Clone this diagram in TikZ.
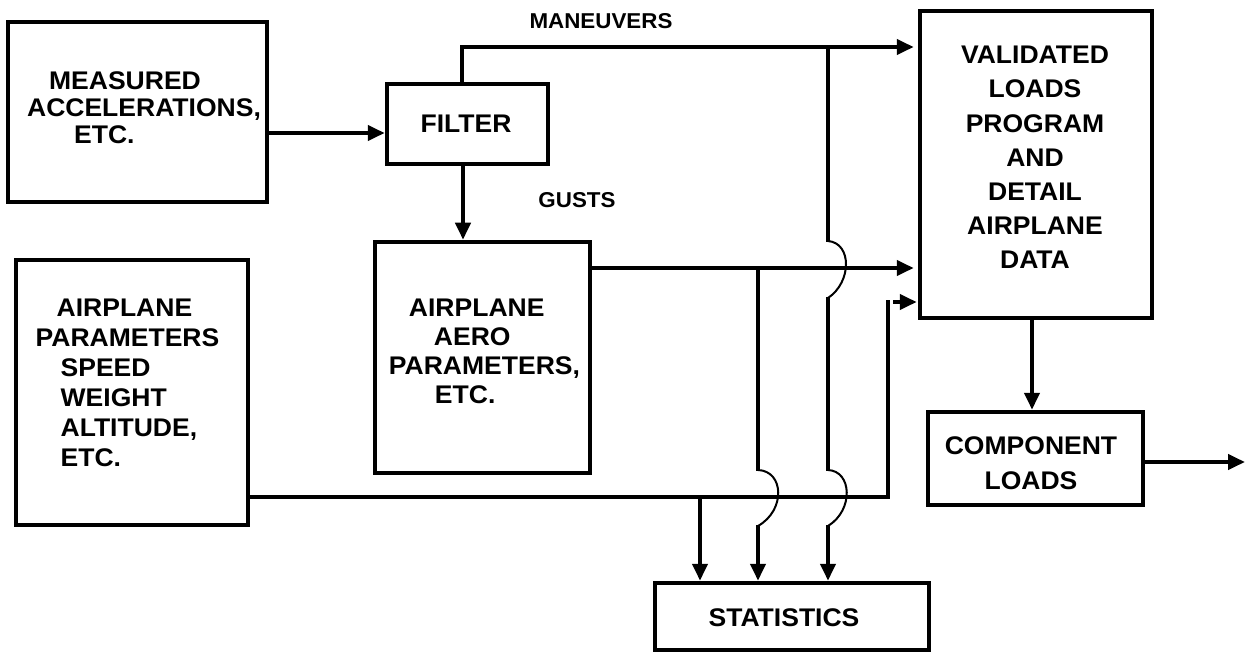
\documentclass[tikz,border=0pt]{standalone}
\usepackage{fontspec}
\setmainfont{Liberation Sans}[FakeStretch=1.04]
\usetikzlibrary{arrows.meta}
\begin{document}
\begin{tikzpicture}[x=1bp,y=-1bp,
  box/.style={draw, line width=4.5bp, inner sep=0pt},
  txt/.style={font=\bfseries\fontsize{25.5bp}{29bp}\selectfont, inner sep=0pt},
  small/.style={font=\bfseries\fontsize{21.5bp}{25bp}\selectfont, inner sep=0pt},
  conn/.style={line width=4bp},
  arr/.style={conn, -{Triangle[length=17bp,width=15bp]}},
  hop/.style={line width=2bp}]
\useasboundingbox (0,0) rectangle (1245,654);
% boxes
\node[box, minimum width=259bp, minimum height=180bp] (meas) at (137.5,112) {};
\node[box, minimum width=161bp, minimum height=80bp] (filter) at (467.5,124) {};
\node[box, minimum width=215bp, minimum height=231bp] (aero) at (482.5,357.5) {};
\node[box, minimum width=232bp, minimum height=265bp] (params) at (132,392.5) {};
\node[box, minimum width=232bp, minimum height=307bp] (valid) at (1036,164.5) {};
\node[box, minimum width=215bp, minimum height=93bp] (comp) at (1035.5,458.5) {};
\node[box, minimum width=274bp, minimum height=67bp] (stats) at (792,616.5) {};
% texts
\node[txt, align=left, font=\bfseries\fontsize{25.5bp}{27bp}\selectfont] (mtxt) at (144,108) {\hspace*{22bp}MEASURED\\ACCELERATIONS,\\\hspace*{47bp}ETC.};
\node[txt] (ftxt) at (466,124) {FILTER};
\node[txt, align=left] (atxt) at (484.5,351) {\hspace*{20bp}AIRPLANE\\\hspace*{45bp}AERO\\PARAMETERS,\\\hspace*{46bp}ETC.};
\node[txt, align=left, font=\bfseries\fontsize{25.5bp}{30bp}\selectfont] (ptxt) at (127.5,383) {\hspace*{21bp}AIRPLANE\\PARAMETERS\\\hspace*{25bp}SPEED\\\hspace*{25bp}WEIGHT\\\hspace*{25bp}ALTITUDE,\\\hspace*{25bp}ETC.};
\node[txt, align=center, font=\bfseries\fontsize{25.5bp}{34.2bp}\selectfont] (vtxt) at (1035,157.5) {VALIDATED\\LOADS\\PROGRAM\\AND\\DETAIL\\AIRPLANE\\DATA};
\node[txt, align=center, font=\bfseries\fontsize{25.5bp}{35bp}\selectfont] (ctxt) at (1031,463) {COMPONENT\\LOADS};
\node[txt] (stxt) at (784,618) {STATISTICS};
\node[small] (mlbl) at (601,21) {MANEUVERS};
\node[small] (glbl) at (577,200) {GUSTS};
% coordinates
\coordinate (ya) at (0,133);
\coordinate (mv) at (462,47);
\coordinate (g) at (590,268);
\coordinate (gb) at (758,268);
\coordinate (mb) at (828,47);
\coordinate (pj) at (888,497);
\coordinate (pb) at (700,497);
\coordinate (pt) at (888,300);
\coordinate (pa) at (893,302);
\coordinate (fd) at (463,0);
\coordinate (vd) at (1032,0);
\coordinate (out) at (1245,462);
% connectors
\draw[arr] (meas.east |- ya) -- (filter.west |- ya);
\draw[arr, shorten >=4bp] (filter.north -| mv) -- (mv) -- (valid.west |- mv);
\draw[arr, shorten >=4bp] (aero.east |- g) -- (valid.west |- g);
\draw[conn] (params.east |- pj) -- (pj) -- (pt);
\draw[arr, shorten >=1bp] (pa) -- (valid.west |- pa);
\draw[arr] (pb) -- (stats.north -| pb);
\draw[arr] (filter.south -| fd) -- (aero.north -| fd);
\draw[arr] (valid.south -| vd) -- (comp.north -| vd);
\draw[arr] (comp.east |- out) -- (out);
% gust branch with hop
\draw[conn] (gb) -- (758,471);
\draw[hop] (758,470) .. controls (784,471) and (786,510) .. (758,526);
\draw[arr] (758,525) -- (stats.north -| gb);
% maneuver branch with hops
\draw[conn] (mb) -- (828,242);
\draw[hop] (828,241) .. controls (852,243) and (852,282) .. (828,298);
\draw[conn] (828,297) -- (828,471);
\draw[hop] (828,470) .. controls (852,471) and (854,510) .. (828,526);
\draw[arr] (828,525) -- (stats.north -| mb);
\end{tikzpicture}
\end{document}
